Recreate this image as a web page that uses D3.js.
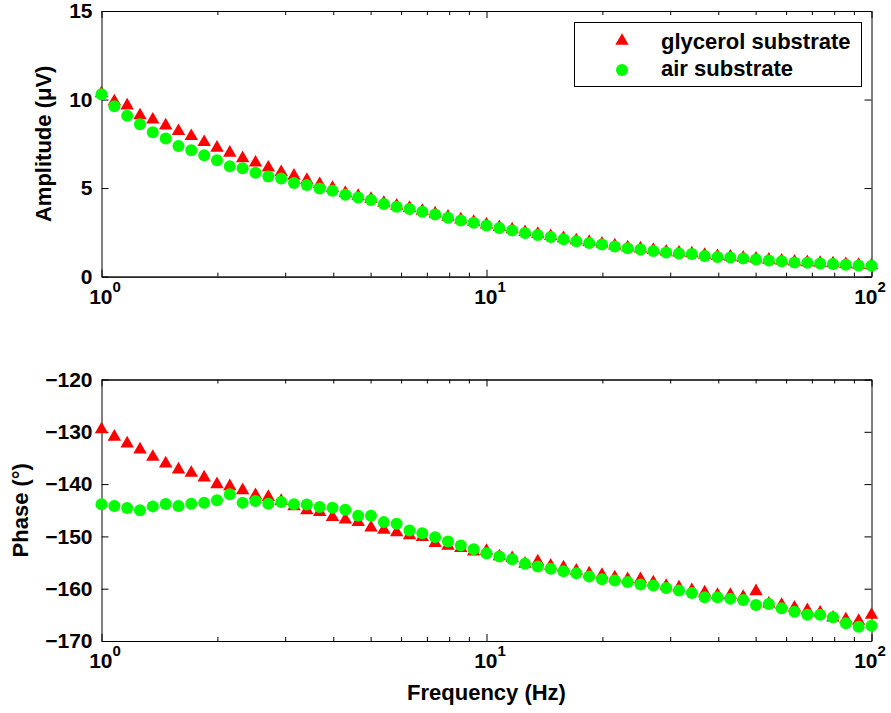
<!DOCTYPE html>
<html>
<head>
<meta charset="utf-8">
<script src="https://cdn.jsdelivr.net/npm/d3@7"></script>
<style>
    body { margin: 0; background: #fff; }
    svg { font-family: 'Liberation Sans', Arial, Helvetica, sans-serif; font-weight: bold; }
    .axis path, .axis line { stroke: #000; stroke-width: 1; }
    .axis text { font-size: 21px; font-family: 'Liberation Sans', Arial, sans-serif; font-weight: bold; fill: #000; }
</style>
</head>
<body>
<svg id="chart" width="891" height="713"></svg>
<script>
let freq = [
    1.000, 1.080, 1.166, 1.259, 1.359, 1.468, 1.585, 1.711, 1.848, 1.995,
    2.154, 2.326, 2.512, 2.712, 2.929, 3.162, 3.415, 3.687, 3.981, 4.299,
    4.642, 5.012, 5.412, 5.843, 6.310, 6.813, 7.356, 7.943, 8.577, 9.261,
    10.00, 10.80, 11.66, 12.59, 13.59, 14.68, 15.85, 17.11, 18.48, 19.95,
    21.54, 23.26, 25.12, 27.12, 29.29, 31.62, 34.15, 36.87, 39.81, 42.99,
    46.42, 50.12, 54.12, 58.43, 63.10, 68.13, 73.56, 79.43, 85.77, 92.61,
    100.0
]

let ampGlycerol = [
    10.35, 9.89, 9.66, 9.10, 8.86, 8.53, 8.21, 7.93, 7.59, 7.27,
    6.99, 6.68, 6.43, 6.15, 5.90, 5.69, 5.45, 5.22, 5.00, 4.72,
    4.55, 4.38, 4.16, 4.00, 3.87, 3.71, 3.56, 3.38, 3.22, 3.09,
    2.94, 2.79, 2.66, 2.51, 2.40, 2.28, 2.16, 2.04, 1.95, 1.86,
    1.75, 1.65, 1.58, 1.50, 1.41, 1.35, 1.31, 1.22, 1.15, 1.12,
    1.06, 1.01, 0.95, 0.90, 0.84, 0.81, 0.77, 0.74, 0.70, 0.66,
    0.63
]

let ampAir = [
    10.30, 9.62, 9.09, 8.60, 8.15, 7.80, 7.37, 7.13, 6.85, 6.57,
    6.23, 6.12, 5.87, 5.65, 5.54, 5.28, 5.17, 4.98, 4.85, 4.62,
    4.47, 4.33, 4.10, 3.95, 3.82, 3.66, 3.51, 3.32, 3.17, 3.04,
    2.89, 2.74, 2.61, 2.46, 2.35, 2.23, 2.11, 1.99, 1.90, 1.81,
    1.70, 1.60, 1.53, 1.45, 1.36, 1.30, 1.27, 1.17, 1.10, 1.08,
    1.02, 0.97, 0.91, 0.86, 0.80, 0.78, 0.74, 0.71, 0.67, 0.63,
    0.61
]

let phaseGlycerol = [
    -129.55, -130.97, -132.24, -133.39, -134.80, -136.07, -137.22, -137.87, -138.75, -140.04,
    -140.42, -141.19, -142.15, -142.47, -143.24, -144.26, -145.02, -145.35, -146.31, -146.81,
    -147.27, -148.34, -148.73, -149.24, -149.82, -150.14, -151.29, -151.79, -152.25, -152.89,
    -152.79, -153.84, -154.17, -155.25, -154.80, -155.63, -155.95, -156.59, -157.10, -157.36,
    -157.87, -158.20, -158.20, -158.83, -159.46, -159.79, -160.30, -160.75, -161.19, -161.19,
    -161.57, -160.50, -162.86, -163.11, -163.62, -164.14, -164.58, -165.54, -165.87, -166.17,
    -165.02
]

let phaseAir = [
    -143.87, -144.20, -144.58, -145.02, -144.26, -143.82, -144.20, -143.74, -143.55, -143.11,
    -141.96, -143.55, -143.24, -143.74, -143.43, -143.87, -143.90, -144.39, -144.51, -144.89,
    -146.04, -146.04, -147.27, -147.57, -148.86, -149.38, -150.14, -150.97, -151.74, -152.44,
    -153.21, -153.84, -154.36, -155.25, -155.76, -156.20, -156.66, -157.05, -157.68, -158.20,
    -158.45, -158.70, -159.21, -159.41, -159.85, -160.36, -160.81, -161.65, -161.65, -161.90,
    -162.15, -163.11, -162.92, -163.76, -164.39, -164.97, -164.97, -165.48, -166.63, -167.27,
    -167.08
]

let majorTicks = [1, 10, 100]
let minorTicks = [2, 3, 4, 5, 6, 7, 8, 9, 20, 30, 40, 50, 60, 70, 80, 90]
let ampTicks = [0, 5, 10, 15]
let phaseTicks = [-170, -160, -150, -140, -130, -120]
let seriesNames = ['glycerol substrate', 'air substrate']

function main() {
    let svg = d3.select('#chart'),
        left = 101.5,
        right = 871.5,
        red = '#ff0000',
        green = '#00ff00'

    let x = d3.scaleLog().domain([1, 100]).range([left, right])

    let tri = d3.symbol().type(d3.symbolTriangle).size(78)

    function panel(top, bottom, domain, ticks, label, labelX, gly, air) {
        let y = d3.scaleLinear().domain(domain).range([bottom, top])
        let g = svg.append('g')

        // box with inward ticks on all four sides
        g.append('g').attr('class', 'axis')
            .attr('transform', 'translate(0,' + bottom + ')')
            .call(d3.axisBottom(x).tickValues(minorTicks).tickSize(-4).tickSizeOuter(0).tickFormat(''))
        g.append('g').attr('class', 'axis')
            .attr('transform', 'translate(0,' + top + ')')
            .call(d3.axisTop(x).tickValues(minorTicks).tickSize(-4).tickSizeOuter(0).tickFormat(''))
        g.append('g').attr('class', 'axis')
            .attr('transform', 'translate(0,' + top + ')')
            .call(d3.axisTop(x).tickValues(majorTicks).tickSize(-7).tickSizeOuter(0).tickFormat(''))

        let xa = g.append('g').attr('class', 'axis')
            .attr('transform', 'translate(0,' + bottom + ')')
            .call(d3.axisBottom(x).tickValues(majorTicks).tickSize(-7).tickSizeOuter(0))
        xa.selectAll('.tick text')
            .attr('dy', null)
            .attr('y', 27)
            .attr('x', d => d === 100 ? -2 : 3)
            .text(null)
            .each(function (d) {
                let t = d3.select(this)
                t.append('tspan').text('10')
                t.append('tspan').attr('dy', -12).style('font-size', '15px')
                    .text(Math.round(Math.log10(d)))
            })

        g.append('g').attr('class', 'axis')
            .attr('transform', 'translate(' + left + ',0)')
            .call(d3.axisLeft(y).tickValues(ticks).tickSize(-7).tickSizeOuter(0).tickPadding(9))
        g.append('g').attr('class', 'axis')
            .attr('transform', 'translate(' + right + ',0)')
            .call(d3.axisRight(y).tickValues(ticks).tickSize(-7).tickSizeOuter(0).tickFormat(''))

        g.append('text')
            .attr('text-anchor', 'middle')
            .attr('transform', 'translate(' + labelX + ',' + (top + bottom) / 2 + ') rotate(-90)')
            .style('font-size', '22px')
            .text(label)

        g.selectAll('.tri')
            .data(freq.map((f, i) => [f, gly[i]]))
            .enter()
            .append('path')
            .attr('d', tri)
            .attr('transform', d => 'translate(' + x(d[0]) + ',' + y(d[1]) + ')')
            .attr('fill', red)

        g.selectAll('.dot')
            .data(freq.map((f, i) => [f, air[i]]))
            .enter()
            .append('circle')
            .attr('cx', d => x(d[0]))
            .attr('cy', d => y(d[1]))
            .attr('r', 6)
            .attr('fill', green)
    }

    panel(11, 276.6, [0, 15], ampTicks, 'Amplitude (\u03bcV)', 51, ampGlycerol, ampAir)
    panel(379.5, 641, [-170, -120], phaseTicks, 'Phase (\u00b0)', 28, phaseGlycerol, phaseAir)

    svg.append('text')
        .attr('x', (left + right) / 2)
        .attr('y', 700)
        .attr('text-anchor', 'middle')
        .style('font-size', '22px')
        .text('Frequency (Hz)')

    // legend
    let lg = svg.append('g')
    lg.append('rect')
        .attr('x', 574.5).attr('y', 22.5)
        .attr('width', 287).attr('height', 64)
        .attr('fill', '#fff').attr('stroke', '#000').attr('stroke-width', 1)
    lg.append('path').attr('d', tri).attr('transform', 'translate(622,41)').attr('fill', red)
    lg.append('circle').attr('cx', 622).attr('cy', 70).attr('r', 6).attr('fill', green)
    lg.selectAll('.lt')
        .data(seriesNames)
        .enter()
        .append('text')
        .attr('x', 661)
        .attr('y', (d, i) => 49 + i * 27)
        .style('font-size', '22px')
        .text(d => d)
}

main()
</script>
</body>
</html>
